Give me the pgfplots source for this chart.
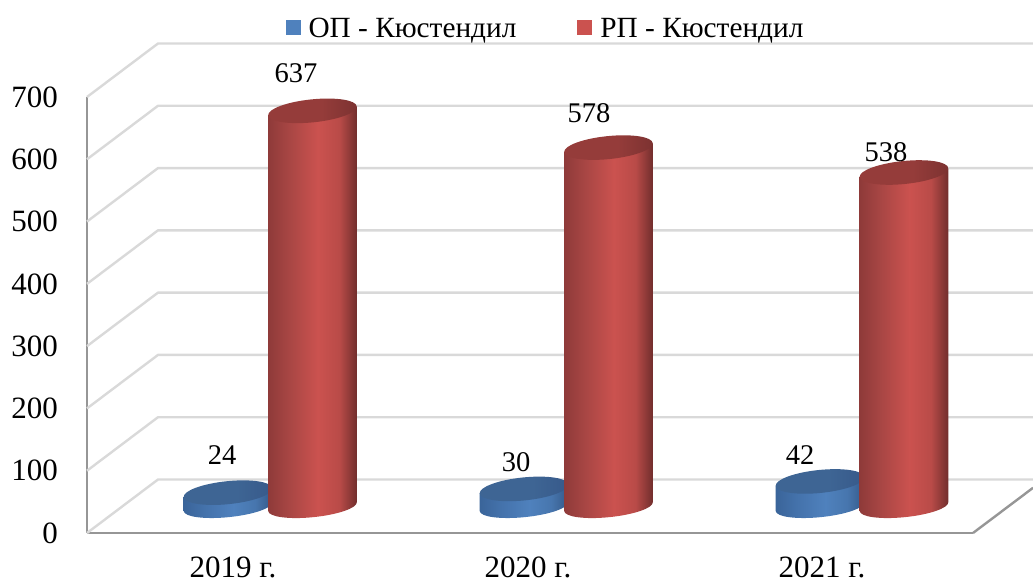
\documentclass[border=0pt]{standalone}
\usepackage{fontspec}
\setmainfont{Liberation Serif}
\usepackage{pgfplots}
\pgfplotsset{compat=1.18}
\definecolor{rA}{HTML}{8E3A39}\definecolor{rB}{HTML}{A84644}\definecolor{rC}{HTML}{CB524F}\definecolor{rD}{HTML}{B94B48}\definecolor{rE}{HTML}{6F2D2C}
\definecolor{rT}{HTML}{953C3A}\definecolor{rU}{HTML}{7C3231}
\definecolor{bA}{HTML}{3A6499}\definecolor{bB}{HTML}{4472AB}\definecolor{bC}{HTML}{4F81BD}\definecolor{bD}{HTML}{4776AE}\definecolor{bE}{HTML}{345888}
\definecolor{bT}{HTML}{3E6594}\definecolor{bU}{HTML}{37598A}
\definecolor{gridc}{HTML}{D9D9D9}\definecolor{axc}{HTML}{969696}
\pgfdeclarehorizontalshading{redcyl}{100bp}{color(0bp)=(rA);color(25bp)=(rA);color(37bp)=(rB);color(53bp)=(rC);color(65bp)=(rD);color(75bp)=(rE);color(100bp)=(rE)}
\pgfdeclarehorizontalshading{bluecyl}{100bp}{color(0bp)=(bA);color(25bp)=(bA);color(37bp)=(bB);color(53bp)=(bC);color(65bp)=(bD);color(75bp)=(bE);color(100bp)=(bE)}
\pgfdeclarehorizontalshading{redtop}{100bp}{color(0bp)=(rT);color(25bp)=(rT);color(55bp)=(rT);color(75bp)=(rU);color(100bp)=(rU)}
\pgfdeclarehorizontalshading{bluetop}{100bp}{color(0bp)=(bT);color(25bp)=(bT);color(55bp)=(bT);color(75bp)=(bU);color(100bp)=(bU)}
\newcommand\cylinder[2]{%
  \pgfscope
  \pgftransformyshift{25.4pt}%
  \pgfmathsetlengthmacro\cylh{\valy*0.6229-1}%
  \pgfpathmoveto{\pgfpoint{-44.4pt}{-\cylh-4.2pt}}%
  \pgfpathlineto{\pgfpoint{44.4pt}{-\cylh+4.2pt}}%
  \pgfpathlineto{\pgfpoint{44.4pt}{4.2pt}}%
  \pgfpathlineto{\pgfpoint{-44.4pt}{-4.2pt}}%
  \pgfpathclose
  \pgfpathellipse{\pgfpoint{0pt}{-\cylh}}{\pgfpoint{44.28pt}{4.5pt}}{\pgfpoint{-1.06pt}{10.5pt}}%
  \pgfshadepath{#1}{0}%
  \pgfusepath{discard}%
  \pgfpathellipse{\pgfpoint{0pt}{0pt}}{\pgfpoint{44.28pt}{4.5pt}}{\pgfpoint{-1.16pt}{11.44pt}}%
  \pgfshadepath{#2}{0}%
  \pgfusepath{discard}%
  \endpgfscope}
\pgfdeclareplotmark{redcylinder}{\cylinder{redcyl}{redtop}}
\pgfdeclareplotmark{bluecylinder}{\cylinder{bluecyl}{bluetop}}
\pgfplotsset{cyl/.style={only marks,scatter,point meta=y,forget plot,
  scatter/@pre marker code/.code={},scatter/@post marker code/.code={},
  visualization depends on={\thisrow{y} \as \valy},
  visualization depends on={\thisrow{dx} \as \dx},
  visualization depends on={\thisrow{dy} \as \dy},
  nodes near coords,
  every node near coord/.append style={anchor=center,inner sep=0pt,text=black,font=\fontsize{28.5}{30}\selectfont,xshift=\dx pt,yshift=\dy pt}},
  wall/.style={gridc,line width=2.4pt,forget plot,line join=round}}
\begin{document}
\begin{tikzpicture}[x=1pt,y=1pt]
\path[use as bounding box] (-87,-51) rectangle (946,533);
\begin{axis}[at={(0,0)},anchor=south west,scale only axis,width=886pt,height=436pt,
  xmin=87,xmax=973,ymin=0,ymax=700,clip=false,
  axis x line*=bottom,axis y line*=left,
  axis line style={axc,line width=2.6pt,-},
  tick style={draw=none},
  ytick={0,100,...,700},
  xtick={233,528,822},xticklabels={2019 г.,2020 г.,2021 г.},
  /pgf/number format/assume math mode=true,
  tick label style={font=\fontsize{31}{33}\selectfont,text=black},
  yticklabel style={xshift=-25.5pt},
  xticklabel style={anchor=base,inner sep=0pt,yshift=-44pt},
  legend style={at={(axis cs:545.5,810)},anchor=center,draw=none,fill=none,legend columns=2,
    font=\fontsize{29.3}{31}\selectfont,/tikz/every even column/.append style={column sep=59pt}},
  legend cell align=left,
  legend image code/.code={\fill[#1] (0pt,-7pt) rectangle (15pt,8pt);\path (21pt,0pt);}
  ]
\addplot[wall] coordinates {(87,0) (158,85.9) (1033,85.9)};
\addplot[wall] coordinates {(87,100) (158,185.9) (1033,185.9)};
\addplot[wall] coordinates {(87,200) (158,285.9) (1033,285.9)};
\addplot[wall] coordinates {(87,300) (158,385.9) (1033,385.9)};
\addplot[wall] coordinates {(87,400) (158,485.9) (1033,485.9)};
\addplot[wall] coordinates {(87,500) (158,585.9) (1033,585.9)};
\addplot[wall] coordinates {(87,600) (158,685.9) (1033,685.9)};
\addplot[wall] coordinates {(87,700) (158,785.9) (1033,785.9)};
\addplot[axc,line width=2.4pt,forget plot] coordinates {(973,0) (1033,72.5)};
\addlegendimage{fill=bC,draw=none}
\addlegendentry{ОП - Кюстендил}
\addlegendimage{fill=rC,draw=none}
\addlegendentry{РП - Кюстендил}
\addplot[cyl,mark=bluecylinder] table {
x y dx dy
228 24 -6 63
524 30 -8 52
820 42 -20 52
};
\addplot[cyl,mark=redcylinder] table {
x y dx dy
312.5 637 -16.5 63.2
608.5 578 -19.5 60
904 538 -18 46
};
\end{axis}
\end{tikzpicture}
\end{document}
